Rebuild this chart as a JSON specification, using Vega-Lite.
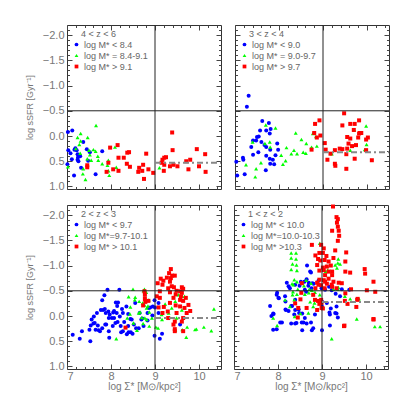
{
"$schema":"https://vega.github.io/schema/vega-lite/v6.json",
"autosize":{"type":"pad"},
"padding":{"left":24,"top":24,"right":0,"bottom":0},
"background":"white",
"datasets":{
"med":[{"p":1,"y":0.53},{"p":2,"y":0.32},{"p":3,"y":0.04},{"p":4,"y":-0.28}],
"pts":[
{"p":1,"g":0,"x":7.12,"y":-0.11},{"p":1,"g":0,"x":7.02,"y":-0.08},{"p":1,"g":0,"x":7.37,"y":0.12},{"p":1,"g":0,"x":7.08,"y":0.34},{"p":1,"g":0,"x":7.17,"y":0.27},{"p":1,"g":0,"x":7.24,"y":0.36},{"p":1,"g":0,"x":7.24,"y":0.47},{"p":1,"g":0,"x":7.26,"y":0.5},{"p":1,"g":0,"x":7.11,"y":0.46},{"p":1,"g":0,"x":7.22,"y":0.28},{"p":1,"g":0,"x":7.45,"y":0.26},{"p":1,"g":0,"x":7.52,"y":0.32},{"p":1,"g":0,"x":7.8,"y":0.3},{"p":1,"g":0,"x":7.48,"y":0.49},{"p":1,"g":0,"x":7.32,"y":0.63},{"p":1,"g":0,"x":7.65,"y":0.76},{"p":1,"g":0,"x":7.16,"y":0.78},{"p":1,"g":0,"x":7.25,"y":0.42},{"p":1,"g":0,"x":7.03,"y":0.28},{"p":1,"g":0,"x":7.01,"y":0.56},{"p":1,"g":0,"x":7.19,"y":0.24},{"p":1,"g":0,"x":7.3,"y":0.4},
{"p":1,"g":1,"x":7.66,"y":-0.21},{"p":1,"g":1,"x":7.31,"y":-0.05},{"p":1,"g":1,"x":7.24,"y":0.03},{"p":1,"g":1,"x":7.47,"y":0.03},{"p":1,"g":1,"x":7.31,"y":0.1},{"p":1,"g":1,"x":7.2,"y":0.25},{"p":1,"g":1,"x":7.5,"y":0.28},{"p":1,"g":1,"x":7.6,"y":0.27},{"p":1,"g":1,"x":7.65,"y":0.3},{"p":1,"g":1,"x":7.7,"y":0.4},{"p":1,"g":1,"x":7.71,"y":0.48},{"p":1,"g":1,"x":7.8,"y":0.55},{"p":1,"g":1,"x":7.94,"y":0.48},{"p":1,"g":1,"x":7.92,"y":0.58},{"p":1,"g":1,"x":8.09,"y":0.22},{"p":1,"g":1,"x":7.46,"y":0.45},{"p":1,"g":1,"x":7.52,"y":0.37},{"p":1,"g":1,"x":7.37,"y":0.65},{"p":1,"g":1,"x":7.36,"y":0.75},{"p":1,"g":1,"x":7.42,"y":0.86},{"p":1,"g":1,"x":7.94,"y":0.69},{"p":1,"g":1,"x":7.96,"y":0.78},{"p":1,"g":1,"x":7.02,"y":0.61},{"p":1,"g":1,"x":9.1,"y":0.63},{"p":1,"g":1,"x":7.3,"y":0.34},{"p":1,"g":1,"x":7.55,"y":0.48},{"p":1,"g":1,"x":7.28,"y":0.17},{"p":1,"g":1,"x":8.12,"y":0.62},
{"p":1,"g":2,"x":7.98,"y":0.23},{"p":1,"g":2,"x":8.15,"y":0.18},{"p":1,"g":2,"x":8.37,"y":0.33},{"p":1,"g":2,"x":8.41,"y":0.32},{"p":1,"g":2,"x":8.17,"y":0.43},{"p":1,"g":2,"x":8.29,"y":0.43},{"p":1,"g":2,"x":8.8,"y":0.35},{"p":1,"g":2,"x":8.36,"y":0.55},{"p":1,"g":2,"x":8.43,"y":0.61},{"p":1,"g":2,"x":7.94,"y":0.53},{"p":1,"g":2,"x":8.05,"y":0.66},{"p":1,"g":2,"x":8.17,"y":0.69},{"p":1,"g":2,"x":7.9,"y":0.71},{"p":1,"g":2,"x":7.46,"y":0.58},{"p":1,"g":2,"x":7.46,"y":0.62},{"p":1,"g":2,"x":8.73,"y":0.57},{"p":1,"g":2,"x":8.64,"y":0.63},{"p":1,"g":2,"x":8.62,"y":0.71},{"p":1,"g":2,"x":8.71,"y":0.69},{"p":1,"g":2,"x":8.85,"y":0.66},{"p":1,"g":2,"x":8.75,"y":0.85},{"p":1,"g":2,"x":8.96,"y":0.73},{"p":1,"g":2,"x":9.39,"y":-0.07},{"p":1,"g":2,"x":9.4,"y":0.28},{"p":1,"g":2,"x":9.17,"y":0.47},{"p":1,"g":2,"x":9.21,"y":0.43},{"p":1,"g":2,"x":9.25,"y":0.42},{"p":1,"g":2,"x":9.21,"y":0.57},{"p":1,"g":2,"x":9.34,"y":0.6},{"p":1,"g":2,"x":9.42,"y":0.57},{"p":1,"g":2,"x":9.51,"y":0.6},{"p":1,"g":2,"x":9.2,"y":0.69},{"p":1,"g":2,"x":9.71,"y":0.5},{"p":1,"g":2,"x":9.8,"y":0.47},{"p":1,"g":2,"x":9.76,"y":0.66},{"p":1,"g":2,"x":9.95,"y":0.26},{"p":1,"g":2,"x":10.0,"y":0.6},{"p":1,"g":2,"x":10.14,"y":0.36},{"p":1,"g":2,"x":10.15,"y":0.71},{"p":1,"g":2,"x":9.15,"y":0.53},
{"p":2,"g":0,"x":7.31,"y":-0.8},{"p":2,"g":0,"x":7.27,"y":-0.58},{"p":2,"g":0,"x":7.62,"y":-0.3},{"p":2,"g":0,"x":7.77,"y":-0.26},{"p":2,"g":0,"x":7.57,"y":-0.11},{"p":2,"g":0,"x":7.71,"y":-0.11},{"p":2,"g":0,"x":7.81,"y":-0.14},{"p":2,"g":0,"x":7.79,"y":-0.05},{"p":2,"g":0,"x":7.54,"y":0.01},{"p":2,"g":0,"x":7.5,"y":0.02},{"p":2,"g":0,"x":7.41,"y":0.09},{"p":2,"g":0,"x":7.48,"y":0.09},{"p":2,"g":0,"x":7.6,"y":0.12},{"p":2,"g":0,"x":7.67,"y":0.18},{"p":2,"g":0,"x":7.71,"y":0.22},{"p":2,"g":0,"x":7.37,"y":0.22},{"p":2,"g":0,"x":7.8,"y":0.27},{"p":2,"g":0,"x":7.96,"y":0.15},{"p":2,"g":0,"x":7.98,"y":0.27},{"p":2,"g":0,"x":7.53,"y":0.32},{"p":2,"g":0,"x":7.41,"y":0.37},{"p":2,"g":0,"x":7.71,"y":0.39},{"p":2,"g":0,"x":7.92,"y":0.38},{"p":2,"g":0,"x":7.79,"y":0.45},{"p":2,"g":0,"x":7.86,"y":0.47},{"p":2,"g":0,"x":7.18,"y":0.43},{"p":2,"g":0,"x":7.19,"y":0.47},{"p":2,"g":0,"x":7.8,"y":0.55},{"p":2,"g":0,"x":7.89,"y":0.56},{"p":2,"g":0,"x":7.7,"y":0.68},{"p":2,"g":0,"x":7.22,"y":0.76},{"p":2,"g":0,"x":7.05,"y":0.78},{"p":2,"g":0,"x":7.03,"y":0.51},
{"p":2,"g":1,"x":7.7,"y":-0.22},{"p":2,"g":1,"x":7.92,"y":-0.16},{"p":2,"g":1,"x":7.4,"y":0.12},{"p":2,"g":1,"x":7.68,"y":0.15},{"p":2,"g":1,"x":7.79,"y":0.12},{"p":2,"g":1,"x":7.8,"y":0.22},{"p":2,"g":1,"x":8.17,"y":0.23},{"p":2,"g":1,"x":8.38,"y":-0.06},{"p":2,"g":1,"x":8.51,"y":0.07},{"p":2,"g":1,"x":8.62,"y":0.15},{"p":2,"g":1,"x":8.77,"y":-0.05},{"p":2,"g":1,"x":8.84,"y":0.01},{"p":2,"g":1,"x":8.74,"y":0.22},{"p":2,"g":1,"x":8.86,"y":0.2},{"p":2,"g":1,"x":8.34,"y":0.28},{"p":2,"g":1,"x":8.28,"y":0.35},{"p":2,"g":1,"x":8.41,"y":0.35},{"p":2,"g":1,"x":8.55,"y":0.32},{"p":2,"g":1,"x":8.61,"y":0.34},{"p":2,"g":1,"x":8.05,"y":0.38},{"p":2,"g":1,"x":8.15,"y":0.49},{"p":2,"g":1,"x":8.09,"y":0.56},{"p":2,"g":1,"x":7.59,"y":0.53},{"p":2,"g":1,"x":7.48,"y":0.65},{"p":2,"g":1,"x":7.46,"y":0.81},{"p":2,"g":1,"x":7.25,"y":0.57},{"p":2,"g":1,"x":9.98,"y":-0.2},{"p":2,"g":1,"x":9.62,"y":0.28},{"p":2,"g":1,"x":9.95,"y":0.27},{"p":2,"g":1,"x":9.2,"y":0.35},{"p":2,"g":1,"x":9.71,"y":-0.12},{"p":2,"g":1,"x":9.99,"y":0.17},
{"p":2,"g":2,"x":8.82,"y":-0.24},{"p":2,"g":2,"x":8.92,"y":-0.31},{"p":2,"g":2,"x":8.8,"y":-0.06},{"p":2,"g":2,"x":8.94,"y":-0.01},{"p":2,"g":2,"x":8.86,"y":0.03},{"p":2,"g":2,"x":8.74,"y":0.27},{"p":2,"g":2,"x":9.04,"y":0.14},{"p":2,"g":2,"x":9.06,"y":0.27},{"p":2,"g":2,"x":9.48,"y":-0.45},{"p":2,"g":2,"x":9.44,"y":-0.21},{"p":2,"g":2,"x":9.62,"y":-0.24},{"p":2,"g":2,"x":9.72,"y":-0.24},{"p":2,"g":2,"x":9.82,"y":-0.31},{"p":2,"g":2,"x":9.7,"y":-0.12},{"p":2,"g":2,"x":9.84,"y":-0.06},{"p":2,"g":2,"x":9.87,"y":-0.06},{"p":2,"g":2,"x":9.55,"y":0.02},{"p":2,"g":2,"x":9.62,"y":0.05},{"p":2,"g":2,"x":9.8,"y":0.03},{"p":2,"g":2,"x":10.02,"y":0.03},{"p":2,"g":2,"x":9.98,"y":0.07},{"p":2,"g":2,"x":9.58,"y":0.15},{"p":2,"g":2,"x":9.66,"y":0.2},{"p":2,"g":2,"x":9.75,"y":0.18},{"p":2,"g":2,"x":9.55,"y":0.25},{"p":2,"g":2,"x":9.38,"y":0.25},{"p":2,"g":2,"x":9.44,"y":0.26},{"p":2,"g":2,"x":9.27,"y":0.28},{"p":2,"g":2,"x":9.17,"y":0.35},{"p":2,"g":2,"x":9.98,"y":0.28},{"p":2,"g":2,"x":9.72,"y":0.45},{"p":2,"g":2,"x":9.53,"y":0.36},{"p":2,"g":2,"x":9.1,"y":0.47},{"p":2,"g":2,"x":9.27,"y":0.55},{"p":2,"g":2,"x":9.28,"y":0.59},{"p":2,"g":2,"x":9.53,"y":0.65},{"p":2,"g":2,"x":10.11,"y":0.48},{"p":2,"g":2,"x":9.82,"y":-0.05},
{"p":3,"g":0,"x":7.92,"y":-0.52},{"p":3,"g":0,"x":8.19,"y":-0.52},{"p":3,"g":0,"x":7.85,"y":-0.41},{"p":3,"g":0,"x":7.8,"y":-0.31},{"p":3,"g":0,"x":7.77,"y":-0.12},{"p":3,"g":0,"x":7.82,"y":-0.12},{"p":3,"g":0,"x":7.88,"y":-0.06},{"p":3,"g":0,"x":7.68,"y":-0.06},{"p":3,"g":0,"x":7.61,"y":0.01},{"p":3,"g":0,"x":7.56,"y":0.07},{"p":3,"g":0,"x":7.63,"y":0.14},{"p":3,"g":0,"x":7.7,"y":0.19},{"p":3,"g":0,"x":7.54,"y":0.19},{"p":3,"g":0,"x":7.51,"y":0.27},{"p":3,"g":0,"x":7.34,"y":0.3},{"p":3,"g":0,"x":7.29,"y":0.45},{"p":3,"g":0,"x":7.13,"y":0.37},{"p":3,"g":0,"x":7.53,"y":0.5},{"p":3,"g":0,"x":7.8,"y":0.24},{"p":3,"g":0,"x":7.87,"y":0.17},{"p":3,"g":0,"x":7.95,"y":0.04},{"p":3,"g":0,"x":8.02,"y":0.04},{"p":3,"g":0,"x":7.97,"y":-0.03},{"p":3,"g":0,"x":8.05,"y":-0.07},{"p":3,"g":0,"x":8.14,"y":-0.2},{"p":3,"g":0,"x":8.16,"y":-0.27},{"p":3,"g":0,"x":8.11,"y":-0.27},{"p":3,"g":0,"x":8.25,"y":-0.14},{"p":3,"g":0,"x":8.27,"y":-0.06},{"p":3,"g":0,"x":8.1,"y":0.14},{"p":3,"g":0,"x":8.22,"y":0.2},{"p":3,"g":0,"x":8.27,"y":0.3},{"p":3,"g":0,"x":7.95,"y":0.3},{"p":3,"g":0,"x":7.96,"y":0.43},{"p":3,"g":0,"x":7.72,"y":0.28},{"p":3,"g":0,"x":7.89,"y":0.17},{"p":3,"g":0,"x":8.44,"y":0.06},{"p":3,"g":0,"x":8.52,"y":0.17},{"p":3,"g":0,"x":8.4,"y":0.32},{"p":3,"g":0,"x":8.49,"y":0.35},{"p":3,"g":0,"x":8.63,"y":0.24},{"p":3,"g":0,"x":8.69,"y":0.07},{"p":3,"g":0,"x":8.39,"y":-0.04},{"p":3,"g":0,"x":8.35,"y":-0.19},{"p":3,"g":0,"x":8.55,"y":-0.26},{"p":3,"g":0,"x":8.74,"y":0.2},{"p":3,"g":0,"x":8.83,"y":0.09},{"p":3,"g":0,"x":8.95,"y":-0.19},{"p":3,"g":0,"x":8.99,"y":-0.31},{"p":3,"g":0,"x":8.99,"y":0.39},{"p":3,"g":0,"x":9.11,"y":0.45},{"p":3,"g":0,"x":9.16,"y":0.35},{"p":3,"g":0,"x":8.83,"y":-0.06},{"p":3,"g":0,"x":9.08,"y":-0.06},{"p":3,"g":0,"x":8.65,"y":-0.06},{"p":3,"g":0,"x":9.08,"y":-0.26},{"p":3,"g":0,"x":7.86,"y":-0.14},{"p":3,"g":0,"x":7.94,"y":-0.09},{"p":3,"g":0,"x":8.07,"y":-0.1},{"p":3,"g":0,"x":8.13,"y":-0.06},{"p":3,"g":0,"x":7.65,"y":0.27},{"p":3,"g":0,"x":7.6,"y":0.15},{"p":3,"g":0,"x":7.75,"y":0.3},{"p":3,"g":0,"x":8.04,"y":0.2},{"p":3,"g":0,"x":8.23,"y":0.32},{"p":3,"g":0,"x":8.36,"y":0.36},{"p":3,"g":0,"x":8.45,"y":0.32},{"p":3,"g":0,"x":8.57,"y":0.24},{"p":3,"g":0,"x":8.71,"y":0.05},{"p":3,"g":0,"x":8.86,"y":-0.16},{"p":3,"g":0,"x":9.0,"y":-0.17},{"p":3,"g":0,"x":8.89,"y":-0.17},{"p":3,"g":0,"x":8.94,"y":-0.01},{"p":3,"g":0,"x":9.57,"y":0.17},{"p":3,"g":0,"x":8.47,"y":0.07},{"p":3,"g":0,"x":8.39,"y":0.2},{"p":3,"g":0,"x":8.2,"y":0.01},{"p":3,"g":0,"x":8.15,"y":0.12},{"p":3,"g":0,"x":8.3,"y":0.12},{"p":3,"g":0,"x":8.07,"y":0.04},
{"p":3,"g":1,"x":8.5,"y":-0.53},{"p":3,"g":1,"x":8.76,"y":-0.53},{"p":3,"g":1,"x":8.8,"y":-0.47},{"p":3,"g":1,"x":8.4,"y":-0.38},{"p":3,"g":1,"x":8.54,"y":-0.32},{"p":3,"g":1,"x":8.44,"y":-0.18},{"p":3,"g":1,"x":8.72,"y":-0.26},{"p":3,"g":1,"x":8.84,"y":-0.2},{"p":3,"g":1,"x":8.86,"y":-0.32},{"p":3,"g":1,"x":8.63,"y":-0.06},{"p":3,"g":1,"x":8.77,"y":0.04},{"p":3,"g":1,"x":8.93,"y":0.04},{"p":3,"g":1,"x":8.87,"y":0.2},{"p":3,"g":1,"x":8.73,"y":0.15},{"p":3,"g":1,"x":8.59,"y":0.28},{"p":3,"g":1,"x":8.12,"y":0.45},{"p":3,"g":1,"x":9.07,"y":0.24},{"p":3,"g":1,"x":9.67,"y":-0.39},{"p":3,"g":1,"x":9.61,"y":-0.12},{"p":3,"g":1,"x":9.46,"y":0.28},{"p":3,"g":1,"x":9.73,"y":0.22},{"p":3,"g":1,"x":9.94,"y":0.26},{"p":3,"g":1,"x":10.11,"y":0.22},{"p":3,"g":1,"x":10.28,"y":0.29},{"p":3,"g":1,"x":9.71,"y":0.42},{"p":3,"g":1,"x":9.46,"y":-0.29},{"p":3,"g":1,"x":9.23,"y":-0.24},{"p":3,"g":1,"x":9.31,"y":-0.06},{"p":3,"g":1,"x":9.16,"y":0.07},{"p":3,"g":1,"x":8.74,"y":-0.5},{"p":3,"g":1,"x":8.55,"y":-0.37},{"p":3,"g":1,"x":8.64,"y":-0.29},{"p":3,"g":1,"x":8.77,"y":-0.36},{"p":3,"g":1,"x":8.76,"y":-0.22},{"p":3,"g":1,"x":8.81,"y":-0.16},{"p":3,"g":1,"x":8.66,"y":-0.08},{"p":3,"g":1,"x":8.43,"y":-0.04},{"p":3,"g":1,"x":8.37,"y":0.04},{"p":3,"g":1,"x":8.51,"y":0.14},{"p":3,"g":1,"x":8.81,"y":0.07},{"p":3,"g":1,"x":8.87,"y":-0.08},{"p":3,"g":1,"x":8.7,"y":0.03},{"p":3,"g":1,"x":9.02,"y":0.22},{"p":3,"g":1,"x":9.53,"y":-0.42},{"p":3,"g":1,"x":10.34,"y":-0.14},{"p":3,"g":1,"x":9.15,"y":-0.03},{"p":3,"g":1,"x":9.38,"y":-0.16},{"p":3,"g":1,"x":9.49,"y":0.04},{"p":3,"g":1,"x":9.62,"y":0.27},{"p":3,"g":1,"x":9.91,"y":0.27},
{"p":3,"g":2,"x":9.36,"y":-0.93},{"p":3,"g":2,"x":9.32,"y":-0.85},{"p":3,"g":2,"x":9.39,"y":-0.8},{"p":3,"g":2,"x":9.45,"y":-0.8},{"p":3,"g":2,"x":9.36,"y":-0.75},{"p":3,"g":2,"x":9.27,"y":-0.76},{"p":3,"g":2,"x":9.13,"y":-0.74},{"p":3,"g":2,"x":9.19,"y":-0.7},{"p":3,"g":2,"x":9.06,"y":-0.65},{"p":3,"g":2,"x":9.34,"y":-0.68},{"p":3,"g":2,"x":9.17,"y":-0.62},{"p":3,"g":2,"x":9.38,"y":-0.59},{"p":3,"g":2,"x":9.3,"y":-0.55},{"p":3,"g":2,"x":9.43,"y":-0.57},{"p":3,"g":2,"x":9.61,"y":-0.57},{"p":3,"g":2,"x":9.64,"y":-0.54},{"p":3,"g":2,"x":9.57,"y":-0.49},{"p":3,"g":2,"x":9.49,"y":-0.5},{"p":3,"g":2,"x":8.76,"y":-0.49},{"p":3,"g":2,"x":9.11,"y":-0.49},{"p":3,"g":2,"x":9.61,"y":-0.46},{"p":3,"g":2,"x":9.34,"y":-0.47},{"p":3,"g":2,"x":9.47,"y":-0.43},{"p":3,"g":2,"x":9.59,"y":-0.39},{"p":3,"g":2,"x":9.7,"y":-0.36},{"p":3,"g":2,"x":9.64,"y":-0.3},{"p":3,"g":2,"x":9.76,"y":-0.22},{"p":3,"g":2,"x":9.8,"y":-0.1},{"p":3,"g":2,"x":9.67,"y":-0.16},{"p":3,"g":2,"x":9.57,"y":-0.19},{"p":3,"g":2,"x":9.47,"y":-0.21},{"p":3,"g":2,"x":9.34,"y":-0.26},{"p":3,"g":2,"x":9.2,"y":-0.18},{"p":3,"g":2,"x":9.29,"y":-0.09},{"p":3,"g":2,"x":9.11,"y":-0.36},{"p":3,"g":2,"x":9.04,"y":-0.39},{"p":3,"g":2,"x":9.08,"y":-0.17},{"p":3,"g":2,"x":9.17,"y":-0.06},{"p":3,"g":2,"x":9.3,"y":0.04},{"p":3,"g":2,"x":9.42,"y":0.17},{"p":3,"g":2,"x":9.45,"y":0.11},{"p":3,"g":2,"x":9.61,"y":0.11},{"p":3,"g":2,"x":9.64,"y":0.04},{"p":3,"g":2,"x":9.49,"y":-0.06},{"p":3,"g":2,"x":9.45,"y":0.26},{"p":3,"g":2,"x":9.45,"y":0.3},{"p":3,"g":2,"x":9.64,"y":0.3},{"p":3,"g":2,"x":8.85,"y":-0.3},{"p":3,"g":2,"x":8.77,"y":-0.34},{"p":3,"g":2,"x":8.73,"y":-0.21},{"p":3,"g":2,"x":8.77,"y":-0.42},{"p":3,"g":2,"x":8.33,"y":0.23},{"p":3,"g":2,"x":9.72,"y":-0.06},{"p":3,"g":2,"x":9.57,"y":-0.32},{"p":3,"g":2,"x":9.42,"y":-0.36},{"p":3,"g":2,"x":8.78,"y":-0.28},
{"p":4,"g":0,"x":8.66,"y":-1.0},{"p":4,"g":0,"x":8.75,"y":-0.86},{"p":4,"g":0,"x":8.65,"y":-0.73},{"p":4,"g":0,"x":8.6,"y":-0.68},{"p":4,"g":0,"x":8.7,"y":-0.66},{"p":4,"g":0,"x":8.78,"y":-0.65},{"p":4,"g":0,"x":8.69,"y":-0.6},{"p":4,"g":0,"x":8.61,"y":-0.52},{"p":4,"g":0,"x":8.27,"y":-0.55},{"p":4,"g":0,"x":8.16,"y":-0.39},{"p":4,"g":0,"x":8.17,"y":-0.29},{"p":4,"g":0,"x":8.01,"y":-0.36},{"p":4,"g":0,"x":7.97,"y":-0.42},{"p":4,"g":0,"x":7.82,"y":-0.2},{"p":4,"g":0,"x":7.89,"y":-0.05},{"p":4,"g":0,"x":8.18,"y":-0.12},{"p":4,"g":0,"x":8.3,"y":-0.2},{"p":4,"g":0,"x":8.39,"y":-0.12},{"p":4,"g":0,"x":8.37,"y":-0.03},{"p":4,"g":0,"x":8.48,"y":-0.06},{"p":4,"g":0,"x":8.05,"y":0.13},{"p":4,"g":0,"x":7.97,"y":0.26},{"p":4,"g":0,"x":8.3,"y":0.15},{"p":4,"g":0,"x":8.42,"y":0.14},{"p":4,"g":0,"x":8.54,"y":0.13},{"p":4,"g":0,"x":8.65,"y":0.15},{"p":4,"g":0,"x":8.75,"y":0.13},{"p":4,"g":0,"x":8.61,"y":0.04},{"p":4,"g":0,"x":8.84,"y":-0.03},{"p":4,"g":0,"x":9.0,"y":-0.19},{"p":4,"g":0,"x":9.0,"y":-0.29},{"p":4,"g":0,"x":9.11,"y":-0.26},{"p":4,"g":0,"x":9.16,"y":-0.58},{"p":4,"g":0,"x":9.22,"y":-0.51},{"p":4,"g":0,"x":9.31,"y":-0.44},{"p":4,"g":0,"x":9.45,"y":-0.53},{"p":4,"g":0,"x":9.41,"y":-0.39},{"p":4,"g":0,"x":9.33,"y":-0.19},{"p":4,"g":0,"x":9.3,"y":-0.06},{"p":4,"g":0,"x":9.18,"y":-0.03},{"p":4,"g":0,"x":9.18,"y":0.19},{"p":4,"g":0,"x":9.0,"y":0.28},{"p":4,"g":0,"x":8.8,"y":0.24},{"p":4,"g":0,"x":9.62,"y":-0.52},{"p":4,"g":0,"x":8.39,"y":-0.62},{"p":4,"g":0,"x":8.49,"y":-0.6},{"p":4,"g":0,"x":8.52,"y":-0.68},{"p":4,"g":0,"x":8.92,"y":-0.7},{"p":4,"g":0,"x":8.99,"y":-0.55},{"p":4,"g":0,"x":9.07,"y":-0.52},{"p":4,"g":0,"x":8.73,"y":-0.88},{"p":4,"g":0,"x":8.81,"y":-0.64},{"p":4,"g":0,"x":8.76,"y":-0.55},{"p":4,"g":0,"x":8.64,"y":-0.48},{"p":4,"g":0,"x":8.2,"y":-0.66},{"p":4,"g":0,"x":8.24,"y":-0.59},{"p":4,"g":0,"x":7.98,"y":-0.46},{"p":4,"g":0,"x":8.02,"y":-0.35},{"p":4,"g":0,"x":8.17,"y":-0.13},{"p":4,"g":0,"x":7.9,"y":-0.04},{"p":4,"g":0,"x":7.85,"y":0.0},{"p":4,"g":0,"x":8.09,"y":0.13},{"p":4,"g":0,"x":8.24,"y":-0.1},{"p":4,"g":0,"x":8.32,"y":-0.2},{"p":4,"g":0,"x":8.39,"y":-0.32},{"p":4,"g":0,"x":8.47,"y":-0.13},{"p":4,"g":0,"x":8.55,"y":-0.05},{"p":4,"g":0,"x":8.58,"y":0.13},{"p":4,"g":0,"x":8.39,"y":0.15},{"p":4,"g":0,"x":7.89,"y":0.27},{"p":4,"g":0,"x":8.77,"y":0.28},{"p":4,"g":0,"x":9.17,"y":-0.07},{"p":4,"g":0,"x":9.2,"y":-0.15},{"p":4,"g":0,"x":9.33,"y":-0.05},{"p":4,"g":0,"x":9.36,"y":0.03},{"p":4,"g":0,"x":8.55,"y":0.28},
{"p":4,"g":1,"x":8.3,"y":-1.25},{"p":4,"g":1,"x":8.41,"y":-1.25},{"p":4,"g":1,"x":8.3,"y":-1.15},{"p":4,"g":1,"x":8.41,"y":-1.13},{"p":4,"g":1,"x":8.33,"y":-1.03},{"p":4,"g":1,"x":8.42,"y":-1.01},{"p":4,"g":1,"x":8.3,"y":-0.92},{"p":4,"g":1,"x":8.43,"y":-0.9},{"p":4,"g":1,"x":9.3,"y":-1.01},{"p":4,"g":1,"x":9.34,"y":-0.95},{"p":4,"g":1,"x":9.36,"y":-1.05},{"p":4,"g":1,"x":9.37,"y":-1.13},{"p":4,"g":1,"x":9.08,"y":-0.88},{"p":4,"g":1,"x":8.95,"y":-1.44},{"p":4,"g":1,"x":9.41,"y":-1.03},{"p":4,"g":1,"x":9.11,"y":-0.99},{"p":4,"g":1,"x":9.13,"y":-0.91},{"p":4,"g":1,"x":8.37,"y":-0.72},{"p":4,"g":1,"x":8.35,"y":-0.62},{"p":4,"g":1,"x":8.45,"y":-0.53},{"p":4,"g":1,"x":8.33,"y":-0.42},{"p":4,"g":1,"x":8.59,"y":-0.6},{"p":4,"g":1,"x":8.61,"y":-0.43},{"p":4,"g":1,"x":8.71,"y":-0.53},{"p":4,"g":1,"x":8.75,"y":-0.65},{"p":4,"g":1,"x":8.84,"y":-0.47},{"p":4,"g":1,"x":8.95,"y":-0.42},{"p":4,"g":1,"x":8.8,"y":-0.19},{"p":4,"g":1,"x":8.69,"y":-0.06},{"p":4,"g":1,"x":8.37,"y":-0.32},{"p":4,"g":1,"x":8.27,"y":-0.19},{"p":4,"g":1,"x":8.16,"y":-0.32},{"p":4,"g":1,"x":7.89,"y":0.04},{"p":4,"g":1,"x":7.98,"y":0.19},{"p":4,"g":1,"x":9.22,"y":0.45},{"p":4,"g":1,"x":9.64,"y":-0.34},{"p":4,"g":1,"x":9.84,"y":-0.34},{"p":4,"g":1,"x":9.79,"y":0.06},{"p":4,"g":1,"x":10.2,"y":0.21},{"p":4,"g":1,"x":10.32,"y":0.21},{"p":4,"g":1,"x":9.52,"y":-0.39},{"p":4,"g":1,"x":9.26,"y":-0.53},{"p":4,"g":1,"x":9.37,"y":-0.57},{"p":4,"g":1,"x":8.43,"y":-0.68},{"p":4,"g":1,"x":8.32,"y":-0.64},{"p":4,"g":1,"x":8.55,"y":-0.66},{"p":4,"g":1,"x":8.64,"y":-0.71},{"p":4,"g":1,"x":8.34,"y":-0.48},{"p":4,"g":1,"x":8.43,"y":-0.43},{"p":4,"g":1,"x":8.7,"y":-0.46},{"p":4,"g":1,"x":8.77,"y":-0.51},{"p":4,"g":1,"x":9.36,"y":-0.53},{"p":4,"g":1,"x":8.73,"y":-0.28},{"p":4,"g":1,"x":8.83,"y":-0.26},{"p":4,"g":1,"x":8.51,"y":-0.05},{"p":4,"g":1,"x":8.38,"y":0.01},
{"p":4,"g":2,"x":9.25,"y":-2.17},{"p":4,"g":2,"x":9.33,"y":-1.96},{"p":4,"g":2,"x":9.36,"y":-1.92},{"p":4,"g":2,"x":9.34,"y":-1.85},{"p":4,"g":2,"x":9.36,"y":-1.77},{"p":4,"g":2,"x":9.23,"y":-1.69},{"p":4,"g":2,"x":9.38,"y":-1.69},{"p":4,"g":2,"x":9.39,"y":-1.59},{"p":4,"g":2,"x":9.36,"y":-1.49},{"p":4,"g":2,"x":8.77,"y":-1.41},{"p":4,"g":2,"x":8.98,"y":-1.41},{"p":4,"g":2,"x":9.04,"y":-1.34},{"p":4,"g":2,"x":8.94,"y":-1.25},{"p":4,"g":2,"x":9.02,"y":-1.25},{"p":4,"g":2,"x":9.55,"y":-1.26},{"p":4,"g":2,"x":9.1,"y":-1.19},{"p":4,"g":2,"x":8.91,"y":-1.13},{"p":4,"g":2,"x":8.96,"y":-1.1},{"p":4,"g":2,"x":9.06,"y":-1.11},{"p":4,"g":2,"x":9.15,"y":-1.08},{"p":4,"g":2,"x":9.26,"y":-1.15},{"p":4,"g":2,"x":8.89,"y":-1.01},{"p":4,"g":2,"x":9.11,"y":-0.98},{"p":4,"g":2,"x":9.04,"y":-0.91},{"p":4,"g":2,"x":8.94,"y":-0.9},{"p":4,"g":2,"x":9.23,"y":-0.88},{"p":4,"g":2,"x":9.53,"y":-0.88},{"p":4,"g":2,"x":9.64,"y":-0.86},{"p":4,"g":2,"x":9.97,"y":-0.93},{"p":4,"g":2,"x":9.53,"y":-1.08},{"p":4,"g":2,"x":9.98,"y":-0.84},{"p":4,"g":2,"x":10.17,"y":-0.68},{"p":4,"g":2,"x":10.02,"y":-0.51},{"p":4,"g":2,"x":9.66,"y":-0.53},{"p":4,"g":2,"x":10.17,"y":0.06},{"p":4,"g":2,"x":9.51,"y":0.19},{"p":4,"g":2,"x":9.58,"y":-0.24},{"p":4,"g":2,"x":9.81,"y":-0.34},{"p":4,"g":2,"x":9.45,"y":-0.65},{"p":4,"g":2,"x":9.33,"y":-0.55},{"p":4,"g":2,"x":9.22,"y":-0.62},{"p":4,"g":2,"x":9.07,"y":-0.68},{"p":4,"g":2,"x":8.92,"y":-0.62},{"p":4,"g":2,"x":8.54,"y":-0.65},{"p":4,"g":2,"x":8.99,"y":-0.16},{"p":4,"g":2,"x":8.99,"y":-0.26},{"p":4,"g":2,"x":8.65,"y":-0.16},{"p":4,"g":2,"x":8.46,"y":-0.16},{"p":4,"g":2,"x":8.84,"y":-0.32},{"p":4,"g":2,"x":8.8,"y":-0.42},{"p":4,"g":2,"x":9.02,"y":-0.96},{"p":4,"g":2,"x":9.15,"y":-0.88},{"p":4,"g":2,"x":9.07,"y":-0.81},{"p":4,"g":2,"x":9.23,"y":-0.81},{"p":4,"g":2,"x":9.15,"y":-0.74},{"p":4,"g":2,"x":9.04,"y":-0.71},{"p":4,"g":2,"x":8.94,"y":-0.72},{"p":4,"g":2,"x":8.89,"y":-0.66},{"p":4,"g":2,"x":8.98,"y":-0.61},{"p":4,"g":2,"x":9.11,"y":-0.64},{"p":4,"g":2,"x":9.26,"y":-0.68},{"p":4,"g":2,"x":9.38,"y":-0.66},{"p":4,"g":2,"x":8.85,"y":-0.55},{"p":4,"g":2,"x":9.06,"y":-0.55},{"p":4,"g":2,"x":9.23,"y":-0.58},{"p":4,"g":2,"x":10.21,"y":-0.48},{"p":4,"g":2,"x":9.53,"y":-0.45},{"p":4,"g":2,"x":9.8,"y":-0.32},{"p":4,"g":2,"x":9.52,"y":-0.3},{"p":4,"g":2,"x":8.98,"y":-0.32},{"p":4,"g":2,"x":8.91,"y":-0.3},{"p":4,"g":2,"x":8.94,"y":-0.24},{"p":4,"g":2,"x":9.02,"y":-0.15},{"p":4,"g":2,"x":8.89,"y":-0.12},{"p":4,"g":2,"x":8.53,"y":-0.46},{"p":4,"g":2,"x":8.51,"y":-0.33},{"p":4,"g":2,"x":8.39,"y":-0.25},{"p":4,"g":2,"x":8.45,"y":0.03},{"p":4,"g":2,"x":9.78,"y":-0.18},{"p":4,"g":2,"x":10.17,"y":0.07},{"p":4,"g":2,"x":9.5,"y":0.2},{"p":4,"g":2,"x":9.3,"y":-1.3},{"p":4,"g":2,"x":8.85,"y":-1.2},{"p":4,"g":2,"x":9.2,"y":-1.0}
]},
"vconcat":[
{"hconcat":[
{"width":154,"height":164,
 "layer":[
  {"data":{"name":"pts"},"transform":[{"filter":"datum.p==1"}],
   "mark":{"type":"point","filled":true,"opacity":1,"size":16},
   "encoding":{
    "x":{"field":"x","type":"quantitative","scale":{"domain":[7,10.5],"nice":false,"zero":false},"axis":{"orient":"bottom","values":[7,8,9,10],"tickSize":-5,"labels":false,"title":null}},
    "y":{"field":"y","type":"quantitative","scale":{"domain":[-2.2,1.05],"reverse":true,"nice":false,"zero":false},"axis":{"orient":"left","values":[-2,-1.5,-1,-0.5,0,0.5,1],"format":".1f","tickSize":-5,"labelPadding":8,"titlePadding":8,"title":"log sSFR [Gyr\u207b\u00b9]","titleFontSize":9}},
    "color":{"field":"g","type":"nominal","scale":{"domain":[0,1,2],"range":["#0000ff","#00ff00","#ff0000"]},"legend":{"title":"\u200b\u2002\u20024 < z < 6","orient":"top-left","labelExpr":"['log M* < 8.4','log M* = 8.4-9.1','log M* > 9.1'][datum.value]"}},
    "shape":{"field":"g","type":"nominal","scale":{"domain":[0,1,2],"range":["circle","triangle-up","square"]},"legend":{"title":"\u200b\u2002\u20024 < z < 6","orient":"top-left","labelExpr":"['log M* < 8.4','log M* = 8.4-9.1','log M* > 9.1'][datum.value]"}}
   }},
  {"data":{"name":"med"},"transform":[{"filter":"datum.p==1"}],"mark":{"type":"rule","color":"#222","strokeWidth":1},
   "encoding":{"y":{"datum":-0.5,"type":"quantitative","axis":{"orient":"right","values":[-2,-1.5,-1,-0.5,0,0.5,1],"tickSize":-5,"labels":false,"title":null}}}},
  {"data":{"name":"med"},"transform":[{"filter":"datum.p==1"}],"mark":{"type":"rule","color":"#222","strokeWidth":1},
   "encoding":{"x":{"datum":9,"type":"quantitative","axis":{"orient":"top","values":[7,8,9,10],"tickSize":-5,"labels":false,"title":null}}}},
  {"data":{"name":"med"},"transform":[{"filter":"datum.p==1"}],"mark":{"type":"rule","color":"#888","strokeWidth":2,"strokeDash":[6,3,2,3]},
   "encoding":{"x":{"datum":9,"type":"quantitative","axis":{"orient":"bottom","values":[7.2,7.4,7.6,7.8,8.2,8.4,8.6,8.8,9.2,9.4,9.6,9.8,10.2,10.4],"tickSize":-2.5,"labels":false,"title":null}},"x2":{"datum":10.5},
    "y":{"field":"y","type":"quantitative","axis":{"orient":"left","values":[-2.1,-1.9,-1.8,-1.7,-1.6,-1.4,-1.3,-1.2,-1.1,-0.9,-0.8,-0.7,-0.6,-0.4,-0.3,-0.2,-0.1,0.1,0.2,0.3,0.4,0.6,0.7,0.8,0.9],"tickSize":-2.5,"labels":false,"title":null}}}},
  {"data":{"name":"med"},"transform":[{"filter":"datum.p==1"}],"mark":{"type":"point","opacity":0},
   "encoding":{"x":{"datum":9,"type":"quantitative","axis":{"orient":"top","values":[7.2,7.4,7.6,7.8,8.2,8.4,8.6,8.8,9.2,9.4,9.6,9.8,10.2,10.4],"tickSize":-2.5,"labels":false,"title":null}},
    "y":{"field":"y","type":"quantitative","axis":{"orient":"right","values":[-2.1,-1.9,-1.8,-1.7,-1.6,-1.4,-1.3,-1.2,-1.1,-0.9,-0.8,-0.7,-0.6,-0.4,-0.3,-0.2,-0.1,0.1,0.2,0.3,0.4,0.6,0.7,0.8,0.9],"tickSize":-2.5,"labels":false,"title":null}}}}
 ],
 "resolve":{"axis":{"x":"independent","y":"independent"}}
},
{"width":154,"height":164,
 "layer":[
  {"data":{"name":"pts"},"transform":[{"filter":"datum.p==2"}],
   "mark":{"type":"point","filled":true,"opacity":1,"size":16},
   "encoding":{
    "x":{"field":"x","type":"quantitative","scale":{"domain":[7,10.5],"nice":false,"zero":false},"axis":{"orient":"bottom","values":[7,8,9,10],"tickSize":-5,"labels":false,"title":null}},
    "y":{"field":"y","type":"quantitative","scale":{"domain":[-2.2,1.05],"reverse":true,"nice":false,"zero":false},"axis":{"orient":"left","values":[-2,-1.5,-1,-0.5,0,0.5,1],"tickSize":-5,"labels":false,"title":null}},
    "color":{"field":"g","type":"nominal","scale":{"domain":[0,1,2],"range":["#0000ff","#00ff00","#ff0000"]},"legend":{"title":"\u200b\u2002\u20023 < z < 4","orient":"top-left","labelExpr":"['log M* < 9.0','log M* = 9.0-9.7','log M* > 9.7'][datum.value]"}},
    "shape":{"field":"g","type":"nominal","scale":{"domain":[0,1,2],"range":["circle","triangle-up","square"]},"legend":{"title":"\u200b\u2002\u20023 < z < 4","orient":"top-left","labelExpr":"['log M* < 9.0','log M* = 9.0-9.7','log M* > 9.7'][datum.value]"}}
   }},
  {"data":{"name":"med"},"transform":[{"filter":"datum.p==2"}],"mark":{"type":"rule","color":"#222","strokeWidth":1},
   "encoding":{"y":{"datum":-0.5,"type":"quantitative","axis":{"orient":"right","values":[-2,-1.5,-1,-0.5,0,0.5,1],"tickSize":-5,"labels":false,"title":null}}}},
  {"data":{"name":"med"},"transform":[{"filter":"datum.p==2"}],"mark":{"type":"rule","color":"#222","strokeWidth":1},
   "encoding":{"x":{"datum":9,"type":"quantitative","axis":{"orient":"top","values":[7,8,9,10],"tickSize":-5,"labels":false,"title":null}}}},
  {"data":{"name":"med"},"transform":[{"filter":"datum.p==2"}],"mark":{"type":"rule","color":"#888","strokeWidth":2,"strokeDash":[6,3,2,3]},
   "encoding":{"x":{"datum":9,"type":"quantitative","axis":{"orient":"bottom","values":[7.2,7.4,7.6,7.8,8.2,8.4,8.6,8.8,9.2,9.4,9.6,9.8,10.2,10.4],"tickSize":-2.5,"labels":false,"title":null}},"x2":{"datum":10.5},
    "y":{"field":"y","type":"quantitative","axis":{"orient":"left","values":[-2.1,-1.9,-1.8,-1.7,-1.6,-1.4,-1.3,-1.2,-1.1,-0.9,-0.8,-0.7,-0.6,-0.4,-0.3,-0.2,-0.1,0.1,0.2,0.3,0.4,0.6,0.7,0.8,0.9],"tickSize":-2.5,"labels":false,"title":null}}}},
  {"data":{"name":"med"},"transform":[{"filter":"datum.p==2"}],"mark":{"type":"point","opacity":0},
   "encoding":{"x":{"datum":9,"type":"quantitative","axis":{"orient":"top","values":[7.2,7.4,7.6,7.8,8.2,8.4,8.6,8.8,9.2,9.4,9.6,9.8,10.2,10.4],"tickSize":-2.5,"labels":false,"title":null}},
    "y":{"field":"y","type":"quantitative","axis":{"orient":"right","values":[-2.1,-1.9,-1.8,-1.7,-1.6,-1.4,-1.3,-1.2,-1.1,-0.9,-0.8,-0.7,-0.6,-0.4,-0.3,-0.2,-0.1,0.1,0.2,0.3,0.4,0.6,0.7,0.8,0.9],"tickSize":-2.5,"labels":false,"title":null}}}}
 ],
 "resolve":{"axis":{"x":"independent","y":"independent"}}
}
],"spacing":10,"resolve":{"scale":{"color":"independent","shape":"independent"}}},
{"hconcat":[
{"width":154,"height":164,
 "layer":[
  {"data":{"name":"pts"},"transform":[{"filter":"datum.p==3"}],
   "mark":{"type":"point","filled":true,"opacity":1,"size":16},
   "encoding":{
    "x":{"field":"x","type":"quantitative","scale":{"domain":[7,10.5],"nice":false,"zero":false},"axis":{"orient":"bottom","values":[7,8,9,10],"tickSize":-5,"labelPadding":6,"titlePadding":0,"title":"log \u03a3* [M\u2299/kpc\u00b2]"}},
    "y":{"field":"y","type":"quantitative","scale":{"domain":[-2.2,1.05],"reverse":true,"nice":false,"zero":false},"axis":{"orient":"left","values":[-2,-1.5,-1,-0.5,0,0.5,1],"format":".1f","tickSize":-5,"labelPadding":8,"titlePadding":8,"title":"log sSFR [Gyr\u207b\u00b9]","titleFontSize":9}},
    "color":{"field":"g","type":"nominal","scale":{"domain":[0,1,2],"range":["#0000ff","#00ff00","#ff0000"]},"legend":{"title":"\u200b\u2002\u20022 < z < 3","orient":"top-left","labelExpr":"['log M* < 9.7','log M*=9.7-10.1','log M* > 10.1'][datum.value]"}},
    "shape":{"field":"g","type":"nominal","scale":{"domain":[0,1,2],"range":["circle","triangle-up","square"]},"legend":{"title":"\u200b\u2002\u20022 < z < 3","orient":"top-left","labelExpr":"['log M* < 9.7','log M*=9.7-10.1','log M* > 10.1'][datum.value]"}}
   }},
  {"data":{"name":"med"},"transform":[{"filter":"datum.p==3"}],"mark":{"type":"rule","color":"#222","strokeWidth":1},
   "encoding":{"y":{"datum":-0.5,"type":"quantitative","axis":{"orient":"right","values":[-2,-1.5,-1,-0.5,0,0.5,1],"tickSize":-5,"labels":false,"title":null}}}},
  {"data":{"name":"med"},"transform":[{"filter":"datum.p==3"}],"mark":{"type":"rule","color":"#222","strokeWidth":1},
   "encoding":{"x":{"datum":9,"type":"quantitative","axis":{"orient":"top","values":[7,8,9,10],"tickSize":-5,"labels":false,"title":null}}}},
  {"data":{"name":"med"},"transform":[{"filter":"datum.p==3"}],"mark":{"type":"rule","color":"#888","strokeWidth":2,"strokeDash":[6,3,2,3]},
   "encoding":{"x":{"datum":9,"type":"quantitative","axis":{"orient":"bottom","values":[7.2,7.4,7.6,7.8,8.2,8.4,8.6,8.8,9.2,9.4,9.6,9.8,10.2,10.4],"tickSize":-2.5,"labels":false,"title":null}},"x2":{"datum":10.5},
    "y":{"field":"y","type":"quantitative","axis":{"orient":"left","values":[-2.1,-1.9,-1.8,-1.7,-1.6,-1.4,-1.3,-1.2,-1.1,-0.9,-0.8,-0.7,-0.6,-0.4,-0.3,-0.2,-0.1,0.1,0.2,0.3,0.4,0.6,0.7,0.8,0.9],"tickSize":-2.5,"labels":false,"title":null}}}},
  {"data":{"name":"med"},"transform":[{"filter":"datum.p==3"}],"mark":{"type":"point","opacity":0},
   "encoding":{"x":{"datum":9,"type":"quantitative","axis":{"orient":"top","values":[7.2,7.4,7.6,7.8,8.2,8.4,8.6,8.8,9.2,9.4,9.6,9.8,10.2,10.4],"tickSize":-2.5,"labels":false,"title":null}},
    "y":{"field":"y","type":"quantitative","axis":{"orient":"right","values":[-2.1,-1.9,-1.8,-1.7,-1.6,-1.4,-1.3,-1.2,-1.1,-0.9,-0.8,-0.7,-0.6,-0.4,-0.3,-0.2,-0.1,0.1,0.2,0.3,0.4,0.6,0.7,0.8,0.9],"tickSize":-2.5,"labels":false,"title":null}}}}
 ],
 "resolve":{"axis":{"x":"independent","y":"independent"}}
},
{"width":154,"height":164,
 "layer":[
  {"data":{"name":"pts"},"transform":[{"filter":"datum.p==4"}],
   "mark":{"type":"point","filled":true,"opacity":1,"size":16},
   "encoding":{
    "x":{"field":"x","type":"quantitative","scale":{"domain":[7,10.5],"nice":false,"zero":false},"axis":{"orient":"bottom","values":[7,8,9,10],"tickSize":-5,"labelPadding":6,"titlePadding":0,"title":"log \u03a3* [M\u2299/kpc\u00b2]"}},
    "y":{"field":"y","type":"quantitative","scale":{"domain":[-2.2,1.05],"reverse":true,"nice":false,"zero":false},"axis":{"orient":"left","values":[-2,-1.5,-1,-0.5,0,0.5,1],"tickSize":-5,"labels":false,"title":null}},
    "color":{"field":"g","type":"nominal","scale":{"domain":[0,1,2],"range":["#0000ff","#00ff00","#ff0000"]},"legend":{"title":"\u200b\u2002\u20021 < z < 2","orient":"top-left","labelExpr":"['log M* < 10.0','log M*=10.0-10.3','log M* >10.3'][datum.value]"}},
    "shape":{"field":"g","type":"nominal","scale":{"domain":[0,1,2],"range":["circle","triangle-up","square"]},"legend":{"title":"\u200b\u2002\u20021 < z < 2","orient":"top-left","labelExpr":"['log M* < 10.0','log M*=10.0-10.3','log M* >10.3'][datum.value]"}}
   }},
  {"data":{"name":"med"},"transform":[{"filter":"datum.p==4"}],"mark":{"type":"rule","color":"#222","strokeWidth":1},
   "encoding":{"y":{"datum":-0.5,"type":"quantitative","axis":{"orient":"right","values":[-2,-1.5,-1,-0.5,0,0.5,1],"tickSize":-5,"labels":false,"title":null}}}},
  {"data":{"name":"med"},"transform":[{"filter":"datum.p==4"}],"mark":{"type":"rule","color":"#222","strokeWidth":1},
   "encoding":{"x":{"datum":9,"type":"quantitative","axis":{"orient":"top","values":[7,8,9,10],"tickSize":-5,"labels":false,"title":null}}}},
  {"data":{"name":"med"},"transform":[{"filter":"datum.p==4"}],"mark":{"type":"rule","color":"#888","strokeWidth":2,"strokeDash":[6,3,2,3]},
   "encoding":{"x":{"datum":9,"type":"quantitative","axis":{"orient":"bottom","values":[7.2,7.4,7.6,7.8,8.2,8.4,8.6,8.8,9.2,9.4,9.6,9.8,10.2,10.4],"tickSize":-2.5,"labels":false,"title":null}},"x2":{"datum":10.5},
    "y":{"field":"y","type":"quantitative","axis":{"orient":"left","values":[-2.1,-1.9,-1.8,-1.7,-1.6,-1.4,-1.3,-1.2,-1.1,-0.9,-0.8,-0.7,-0.6,-0.4,-0.3,-0.2,-0.1,0.1,0.2,0.3,0.4,0.6,0.7,0.8,0.9],"tickSize":-2.5,"labels":false,"title":null}}}},
  {"data":{"name":"med"},"transform":[{"filter":"datum.p==4"}],"mark":{"type":"point","opacity":0},
   "encoding":{"x":{"datum":9,"type":"quantitative","axis":{"orient":"top","values":[7.2,7.4,7.6,7.8,8.2,8.4,8.6,8.8,9.2,9.4,9.6,9.8,10.2,10.4],"tickSize":-2.5,"labels":false,"title":null}},
    "y":{"field":"y","type":"quantitative","axis":{"orient":"right","values":[-2.1,-1.9,-1.8,-1.7,-1.6,-1.4,-1.3,-1.2,-1.1,-0.9,-0.8,-0.7,-0.6,-0.4,-0.3,-0.2,-0.1,0.1,0.2,0.3,0.4,0.6,0.7,0.8,0.9],"tickSize":-2.5,"labels":false,"title":null}}}}
 ],
 "resolve":{"axis":{"x":"independent","y":"independent"}}
}
],"spacing":10,"resolve":{"scale":{"color":"independent","shape":"independent"}}}
],
"spacing":12,
"resolve":{"scale":{"color":"independent","shape":"independent"}},
"config":{
 "font":"Liberation Sans",
 "view":{"stroke":"#333","strokeWidth":1},
 "axis":{"grid":false,"domain":false,"tickColor":"#444","labelColor":"#777","titleColor":"#777","labelFontSize":11,"titleFontSize":10,"titleFontWeight":"normal","minExtent":0,"labelFont":"Liberation Sans","titleFont":"Liberation Sans"},
 "legend":{"offset":5,"padding":0,"symbolSize":14,"symbolStrokeWidth":0,"labelFontSize":9,"titleFontSize":9,"titleFontWeight":"normal","titleColor":"#666","labelColor":"#666","rowPadding":1,"titlePadding":1,"labelOffset":3,"labelFont":"Liberation Sans","titleFont":"Liberation Sans"}
}
}
